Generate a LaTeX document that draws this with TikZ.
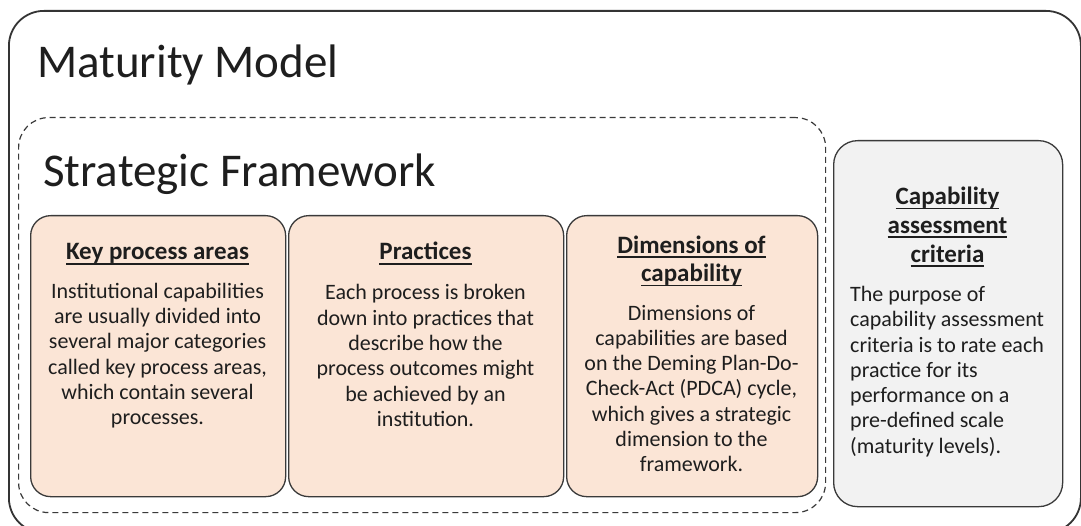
\documentclass[tikz,border=0pt]{standalone}
\usepackage{fontspec}
\setmainfont{Carlito}
\definecolor{boxorange}{HTML}{FBE5D6}
\definecolor{boxgrey}{HTML}{F2F2F2}
\definecolor{edgecol}{HTML}{3A3A3A}
\definecolor{txtcol}{HTML}{1E1E1E}
\newcommand\myul[1]{\setbox0\hbox{#1}\rlap{\rule[-4.6pt]{\wd0}{1.6pt}}\box0}
\tikzset{
  outerbox/.style={draw=edgecol!90!black, line width=1.8pt, rounded corners=35pt, inner sep=0pt, anchor=north west},
  framebox/.style={draw=edgecol, line width=1.2pt, dash pattern=on 6pt off 4pt, rounded corners=30pt, inner sep=0pt, anchor=north west},
  cardbox/.style={draw=edgecol, line width=1.3pt, fill=boxorange, rounded corners=20pt, inner sep=0pt, anchor=north west},
  greybox/.style={draw=edgecol, line width=1.3pt, fill=boxgrey, rounded corners=24pt, inner sep=0pt, anchor=north west},
  bigtitle/.style={font=\fontsize{47}{56}\selectfont, text=txtcol, inner sep=0pt, anchor=base west},
  headtext/.style={font=\fontsize{25}{28.6}\selectfont\bfseries, text=txtcol, inner sep=0pt, align=center},
  bodytext/.style={font=\fontsize{22}{25.3}\selectfont, text=txtcol, inner sep=0pt, align=center},
  bodyleft/.style={font=\fontsize{22}{25.3}\selectfont, text=txtcol, inner sep=0pt, align=left, anchor=west},
}
\begin{document}
\begin{tikzpicture}[x=1pt,y=-1pt]
\useasboundingbox (0,0) rectangle (1081,526);
\fill[white] (0,0) rectangle (1081,526);
% outer maturity model box
\node[outerbox, minimum width=1072pt, minimum height=522pt] (mm) at (8,10) {};
\node[bigtitle] (mmtitle) at (37,78) {Maturity Model};
% strategic framework dashed box
\node[framebox, minimum width=807pt, minimum height=395pt] (sf) at (18,117) {};
\node[bigtitle] (sftitle) at (43,187) {Strategic Framework};
% cards
\node[cardbox, minimum width=255pt, minimum height=281pt] (kpa) at (30,215) {};
\node[cardbox, minimum width=275pt, minimum height=281pt] (prac) at (288,215) {};
\node[cardbox, minimum width=251pt, minimum height=281pt] (dim) at (566,215) {};
\node[greybox, minimum width=229pt, minimum height=366pt] (cac) at (833,140) {};
% headings
\node[headtext, anchor=base] (kpah) at (157.5,260) {\myul{Key process areas}};
\node[headtext, anchor=base] (prach) at (425.5,260) {\myul{Practices}};
\node[headtext] (dimh) at (691.5,261) {\myul{Dimensions of}\\\myul{capability}};
\node[headtext] (cach) at (947.5,227) {\myul{Capability}\\\myul{assessment}\\\myul{criteria}};
% bodies
\node[bodytext] (kpab) at (157.5,355.5) {Institutional capabilities\\are usually divided into\\several major categories\\called key process areas,\\which contain several\\processes.};
\node[bodytext] (pracb) at (425.5,355.5) {Each process is broken\\down into practices that\\describe how the\\process outcomes might\\be achieved by an\\institution.};
\node[bodytext] (dimb) at (691.5,388.5) {Dimensions of\\capabilities are based\\on the Deming Plan-Do-\\Check-Act (PDCA) cycle,\\which gives a strategic\\dimension to the\\framework.};
\node[bodyleft] (cacb) at (850,371.5) {The purpose of\\capability assessment\\criteria is to rate each\\practice for its\\performance on a\\pre-defined scale\\(maturity levels).};
\end{tikzpicture}
\end{document}
